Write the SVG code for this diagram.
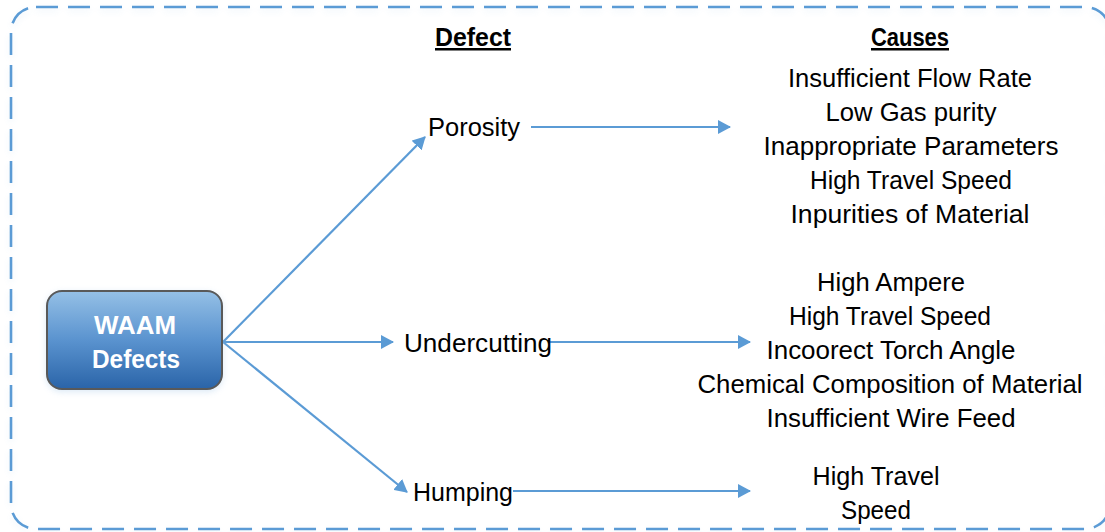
<svg xmlns="http://www.w3.org/2000/svg" width="1105" height="532" viewBox="0 0 1105 532">
  <defs>
    <style>
      .lbl { font-family: "Liberation Sans", Arial, sans-serif; font-size: 25px; fill: #000; }
      .hdr { font-family: "Liberation Sans", Arial, sans-serif; font-size: 25px; font-weight: bold; fill: #000; text-decoration: underline; }
      .cause { font-family: "Liberation Sans", Arial, sans-serif; font-size: 25px; fill: #000; text-anchor: middle; }
      .node-text { font-family: "Liberation Sans", Arial, sans-serif; font-size: 25px; font-weight: bold; fill: #fff; text-anchor: middle; }
      .conn { stroke: #5b9bd5; stroke-width: 2.2; fill: none; }
      .frame { fill: none; stroke: #5b9bd5; stroke-width: 2.6; stroke-dasharray: 22 10; }
    </style>
    <linearGradient id="nodeFill" x1="0" y1="0" x2="0" y2="1">
      <stop offset="0" stop-color="#95c0e6"/>
      <stop offset="0.5" stop-color="#5a93cf"/>
      <stop offset="1" stop-color="#2a64a8"/>
    </linearGradient>
    <filter id="soft" x="-20%" y="-20%" width="140%" height="140%">
      <feGaussianBlur stdDeviation="3"/>
    </filter>
    <marker id="arrow" viewBox="0 0 13 14" refX="12" refY="7" markerWidth="13" markerHeight="14" markerUnits="userSpaceOnUse" orient="auto">
      <path d="M0,0 L13,7 L0,14 Z" fill="#5b9bd5"/>
    </marker>
  </defs>

  <rect width="1105" height="532" fill="#ffffff"/>

  <!-- dashed outer frame with a faint glow -->
  <rect x="11" y="10" width="1099" height="522" rx="25" class="frame" opacity="0.12" filter="url(#soft)"/>
  <rect x="11" y="7" width="1099" height="522" rx="25" class="frame"/>

  <!-- column headers -->
  <text class="hdr" x="435" y="46" textLength="76" lengthAdjust="spacingAndGlyphs">Defect</text>
  <text class="hdr" x="871" y="46" textLength="78" lengthAdjust="spacingAndGlyphs">Causes</text>

  <!-- connectors -->
  <g id="connectors">
    <line class="conn" x1="223" y1="342" x2="425" y2="137" marker-end="url(#arrow)"/>
    <line class="conn" x1="223" y1="342" x2="393" y2="342" marker-end="url(#arrow)"/>
    <line class="conn" x1="223" y1="342" x2="407" y2="492" marker-end="url(#arrow)"/>
    <line class="conn" x1="531" y1="127" x2="730" y2="127" marker-end="url(#arrow)"/>
    <line class="conn" x1="549" y1="342" x2="750" y2="342" marker-end="url(#arrow)"/>
    <line class="conn" x1="513" y1="491" x2="750" y2="491" marker-end="url(#arrow)"/>
  </g>

  <!-- root node -->
  <g id="waam-defects">
    <rect x="46" y="292" width="177" height="100" rx="16" fill="#9cc3e6" opacity="0.35" filter="url(#soft)"/>
    <rect x="47" y="291" width="175" height="98" rx="15" fill="url(#nodeFill)" stroke="#595959" stroke-width="2"/>
    <text class="node-text" x="135" y="334" textLength="82" lengthAdjust="spacingAndGlyphs">WAAM</text>
    <text class="node-text" x="136" y="368" textLength="88" lengthAdjust="spacingAndGlyphs">Defects</text>
  </g>

  <!-- defect nodes -->
  <g id="porosity">
    <text class="lbl" x="428" y="136" textLength="92" lengthAdjust="spacingAndGlyphs">Porosity</text>
  </g>
  <g id="undercutting">
    <text class="lbl" x="404" y="352" textLength="148" lengthAdjust="spacingAndGlyphs">Undercutting</text>
  </g>
  <g id="humping">
    <text class="lbl" x="413" y="501" textLength="100" lengthAdjust="spacingAndGlyphs">Humping</text>
  </g>

  <!-- causes -->
  <g id="porosity-causes">
    <text class="cause" x="910" y="87" textLength="244" lengthAdjust="spacingAndGlyphs">Insufficient Flow Rate</text>
    <text class="cause" x="911" y="121" textLength="171" lengthAdjust="spacingAndGlyphs">Low Gas purity</text>
    <text class="cause" x="911" y="155" textLength="295" lengthAdjust="spacingAndGlyphs">Inappropriate Parameters</text>
    <text class="cause" x="911" y="189" textLength="202" lengthAdjust="spacingAndGlyphs">High Travel Speed</text>
    <text class="cause" x="910" y="223" textLength="239" lengthAdjust="spacingAndGlyphs">Inpurities of Material</text>
  </g>
  <g id="undercutting-causes">
    <text class="cause" x="891" y="291" textLength="148" lengthAdjust="spacingAndGlyphs">High Ampere</text>
    <text class="cause" x="890" y="325" textLength="202" lengthAdjust="spacingAndGlyphs">High Travel Speed</text>
    <text class="cause" x="891" y="359" textLength="249" lengthAdjust="spacingAndGlyphs">Incoorect Torch Angle</text>
    <text class="cause" x="890" y="393" textLength="385" lengthAdjust="spacingAndGlyphs">Chemical Composition of Material</text>
    <text class="cause" x="891" y="427" textLength="249" lengthAdjust="spacingAndGlyphs">Insufficient Wire Feed</text>
  </g>
  <g id="humping-causes">
    <text class="cause" x="876" y="485" textLength="127" lengthAdjust="spacingAndGlyphs">High Travel</text>
    <text class="cause" x="876" y="519" textLength="70" lengthAdjust="spacingAndGlyphs">Speed</text>
  </g>
</svg>
